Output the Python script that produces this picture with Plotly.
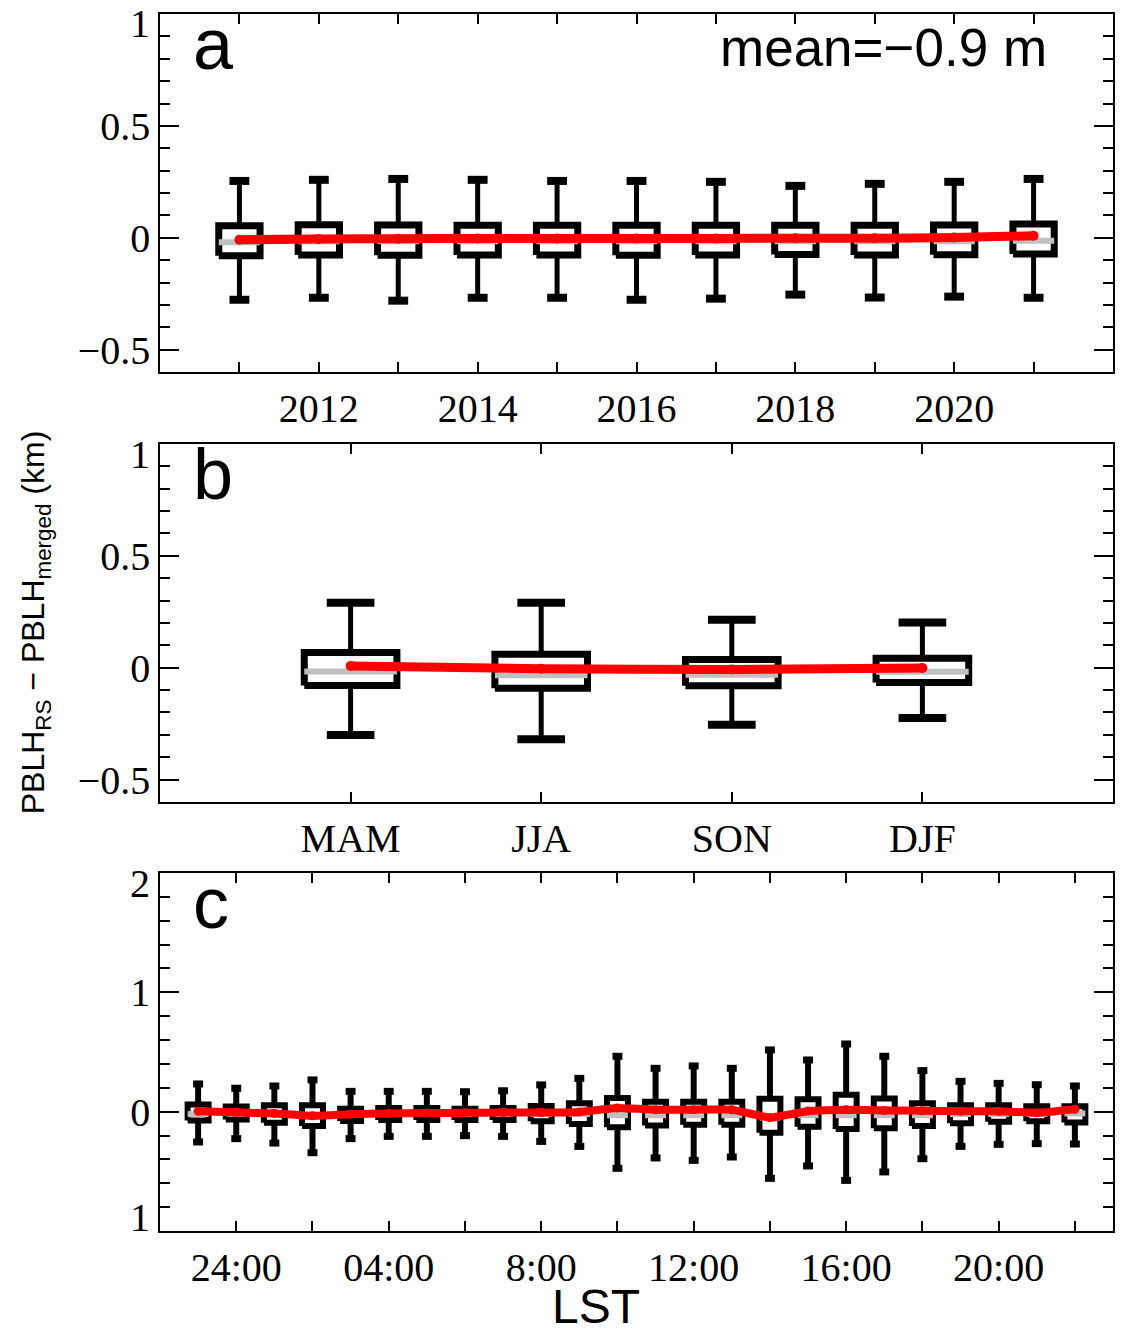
import plotly.graph_objects as go

# ---------------- data (km) ----------------
years = [2011, 2012, 2013, 2014, 2015, 2016, 2017, 2018, 2019, 2020, 2021]
yr_hi = [0.254, 0.259, 0.263, 0.259, 0.254, 0.254, 0.250, 0.232, 0.241, 0.250, 0.263]
yr_q3 = [0.054, 0.058, 0.057, 0.056, 0.056, 0.056, 0.056, 0.056, 0.056, 0.057, 0.062]
yr_med = [-0.020, -0.015, -0.015, -0.015, -0.015, -0.016, -0.015, -0.015, -0.015, -0.015, -0.013]
yr_q1 = [-0.080, -0.077, -0.078, -0.077, -0.077, -0.078, -0.077, -0.075, -0.077, -0.076, -0.073]
yr_lo = [-0.277, -0.268, -0.281, -0.268, -0.268, -0.277, -0.272, -0.254, -0.267, -0.263, -0.268]
yr_mean = [-0.009, -0.005, -0.004, -0.003, -0.003, -0.003, -0.003, -0.002, -0.002, 0.001, 0.009]

seasons = ["MAM", "JJA", "SON", "DJF"]
se_pos = [1, 2, 3, 4]
se_hi = [0.290, 0.290, 0.215, 0.202]
se_q3 = [0.068, 0.060, 0.037, 0.042]
se_med = [-0.017, -0.033, -0.031, -0.018]
se_q1 = [-0.079, -0.092, -0.080, -0.066]
se_lo = [-0.300, -0.320, -0.255, -0.225]
se_mean = [0.008, -0.004, -0.008, -0.001]

hours = list(range(-1, 23))  # hour -1 is 23:00 of the previous day
hr_hi = [0.232, 0.196, 0.215, 0.266, 0.170, 0.170, 0.170, 0.167, 0.175, 0.224, 0.279, 0.464,
         0.363, 0.383, 0.363, 0.517, 0.433, 0.567, 0.464, 0.344, 0.254, 0.237, 0.226, 0.215]
hr_q3 = [0.059, 0.044, 0.053, 0.053, 0.025, 0.031, 0.031, 0.025, 0.031, 0.048, 0.070, 0.115,
         0.084, 0.084, 0.084, 0.109, 0.103, 0.142, 0.111, 0.070, 0.053, 0.053, 0.045, 0.045]
hr_med = [-0.020, -0.015, -0.020, -0.030, -0.020, -0.015, -0.015, -0.015, -0.015, -0.020, -0.020, -0.030,
          -0.030, -0.030, -0.030, -0.050, -0.030, -0.030, -0.030, -0.030, -0.020, -0.020, -0.020, -0.015]
hr_q1 = [-0.075, -0.065, -0.092, -0.120, -0.078, -0.070, -0.070, -0.070, -0.070, -0.081, -0.103, -0.131,
         -0.117, -0.110, -0.110, -0.176, -0.126, -0.145, -0.140, -0.120, -0.098, -0.085, -0.080, -0.090]
hr_lo = [-0.254, -0.226, -0.263, -0.344, -0.226, -0.207, -0.207, -0.201, -0.207, -0.249, -0.291, -0.475,
         -0.388, -0.408, -0.380, -0.559, -0.455, -0.576, -0.505, -0.394, -0.291, -0.274, -0.268, -0.271]
hr_mean = [0.003, -0.006, -0.015, -0.035, -0.022, -0.015, -0.012, -0.010, -0.008, -0.008, -0.002, 0.030,
           0.017, 0.017, 0.017, -0.050, 0.005, 0.017, 0.010, 0.008, 0.003, 0.003, -0.010, 0.020]

year_ticks = years
year_labels = [str(y) if y % 2 == 0 else "" for y in years]
hour_ticks = list(range(0, 23, 2))
hour_labels = ["24:00", "", "04:00", "", "8:00", "", "12:00", "", "16:00", "", "20:00", ""]

# ---------------- styling ----------------
SERIF = "Liberation Serif"
SANS = "Liberation Sans"
GRAY = "#c0c0c0"
RED = "#ff0000"

fig = go.Figure()


def add_boxes(x, q1, med, q3, lo, hi, mean, hw, cw, xa, ya, box_w, stem_w, cap_w, red_w):
    bx, by, sx, sy, cx, cy, mx, my = [], [], [], [], [], [], [], []
    for xi, a, m, b, l, h in zip(x, q1, med, q3, lo, hi):
        bx += [xi - hw, xi + hw, xi + hw, xi - hw, xi - hw, None]
        by += [a, a, b, b, a, None]
        sx += [xi, xi, None, xi, xi, None]
        sy += [b, h, None, a, l, None]
        cx += [xi - cw, xi + cw, None, xi - cw, xi + cw, None]
        cy += [h, h, None, l, l, None]
        mx += [xi - hw, xi + hw, None]
        my += [m, m, None]
    common = dict(xaxis=xa, yaxis=ya, mode="lines", hoverinfo="skip", showlegend=False)
    fig.add_trace(go.Scatter(x=sx, y=sy, line=dict(color="black", width=stem_w), **common))
    fig.add_trace(go.Scatter(x=cx, y=cy, line=dict(color="black", width=cap_w), **common))
    fig.add_trace(go.Scatter(x=bx, y=by, line=dict(color="black", width=box_w), **common))
    fig.add_trace(go.Scatter(x=mx, y=my, line=dict(color=GRAY, width=6), **common))
    fig.add_trace(go.Scatter(x=x, y=mean, xaxis=xa, yaxis=ya, mode="lines+markers",
                             line=dict(color=RED, width=red_w, shape="spline", smoothing=0.3),
                             marker=dict(color=RED, size=red_w + 1),
                             hoverinfo="skip", showlegend=False))


add_boxes(years, yr_q1, yr_med, yr_q3, yr_lo, yr_hi, yr_mean, 0.26, 0.125, "x", "y", 7, 5, 8, 9)
add_boxes(se_pos, se_q1, se_med, se_q3, se_lo, se_hi, se_mean, 0.243, 0.125, "x2", "y2", 7, 5, 8, 9)
add_boxes(hours, hr_q1, hr_med, hr_q3, hr_lo, hr_hi, hr_mean, 0.275, 0.13, "x3", "y3", 6, 6, 7, 8)

axis_common = dict(showline=True, linecolor="black", linewidth=1.5, mirror="allticks",
                   ticks="inside", tickcolor="black", tickwidth=1.5, showgrid=False,
                   zeroline=False, tickfont=dict(family=SERIF, size=40, color="black"))

x_common = dict(axis_common, ticklen=10)
y_common = dict(axis_common, ticklen=19)

dom_a = [0.7058, 1.0]
dom_b = [0.3525, 0.6467]
dom_c = [0.0, 0.2942]

fig.update_layout(
    width=1122, height=1336,
    margin=dict(l=160, r=7, t=14, b=105),
    paper_bgcolor="white", plot_bgcolor="white",
    xaxis=dict(x_common, domain=[0, 1], anchor="y", range=[2010, 2022],
               tickmode="array", tickvals=year_ticks, ticktext=year_labels),
    yaxis=dict(y_common, domain=dom_a, anchor="x", range=[-0.6, 1.0],
               tickmode="array", tickvals=[-0.5, 0, 0.5], ticktext=["\u22120.5", "0", "0.5"],
               minor=dict(tickmode="linear", tick0=0, dtick=0.1, ticklen=10, ticks="inside",
                          tickcolor="black", tickwidth=1.5)),
    xaxis2=dict(x_common, domain=[0, 1], anchor="y2", range=[0, 5],
                tickmode="array", tickvals=se_pos, ticktext=seasons),
    yaxis2=dict(y_common, domain=dom_b, anchor="x2", range=[-0.6, 1.0],
                tickmode="array", tickvals=[-0.5, 0, 0.5], ticktext=["\u22120.5", "0", "0.5"],
                minor=dict(tickmode="linear", tick0=0, dtick=0.1, ticklen=10, ticks="inside",
                           tickcolor="black", tickwidth=1.5)),
    xaxis3=dict(x_common, domain=[0, 1], anchor="y3", range=[-2, 23],
                tickmode="array", tickvals=hour_ticks, ticktext=hour_labels),
    yaxis3=dict(y_common, domain=dom_c, anchor="x3", range=[-1, 2],
                tickmode="array", tickvals=[0, 1], ticktext=["0", "1"],
                minor=dict(tickmode="linear", tick0=0, dtick=0.2, ticklen=10, ticks="inside",
                           tickcolor="black", tickwidth=1.5)),
)

ann = []
# end-of-axis tick labels, nudged inside the frame
for ya, yv, txt, shift in [("y", 1.0, "1", -9), ("y2", 1.0, "1", -11),
                           ("y3", 2.0, "2", -11), ("y3", -1.0, "1", 13)]:
    xa = {"y": "x", "y2": "x2", "y3": "x3"}[ya]
    ann.append(dict(xref=f"{xa} domain", x=0, xanchor="right", xshift=-8,
                    yref=ya, y=yv, yanchor="middle", yshift=shift, showarrow=False,
                    text=txt, font=dict(family=SERIF, size=40, color="black")))

for xa, ya, letter in [("x", "y", "a"), ("x2", "y2", "b"), ("x3", "y3", "c")]:
    ann.append(dict(xref=f"{xa} domain", x=0, xanchor="left", xshift=31,
                    yref=f"{ya} domain", y=1, yanchor="top", yshift=12, showarrow=False,
                    text=letter, font=dict(family=SANS, size=72, color="black")))

ann.append(dict(xref="x domain", x=1, xanchor="right", xshift=-64,
                yref="y domain", y=1, yanchor="top", yshift=-2, showarrow=False,
                text="mean=\u22120.9 m", font=dict(family=SANS, size=53, color="black")))

ann.append(dict(xref="paper", x=(35 - 160) / 955, xanchor="center",
                yref="paper", y=(1231 - 622) / 1217, yanchor="middle", textangle=-90,
                showarrow=False,
                text="PBLH<sub>RS</sub> \u2212 PBLH<sub>merged</sub> (km)",
                font=dict(family=SANS, size=32, color="black")))

ann.append(dict(xref="paper", x=(597 - 160) / 955, xanchor="center",
                yref="paper", y=(1231 - 1306) / 1217, yanchor="middle", showarrow=False,
                text="LST", font=dict(family=SANS, size=48, color="black")))

fig.update_layout(annotations=ann)

fig.write_html("out.html")
